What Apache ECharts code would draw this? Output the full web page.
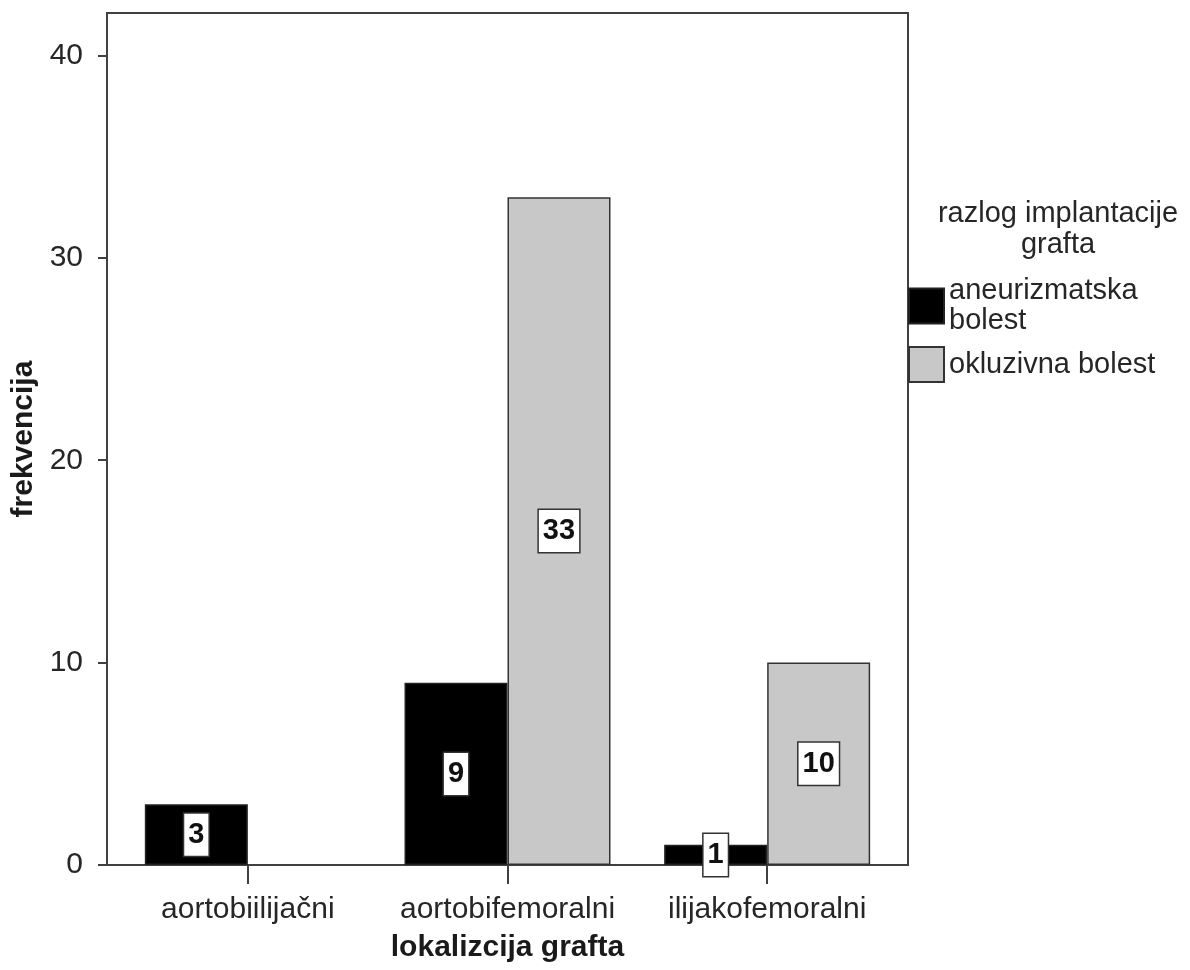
<!DOCTYPE html>
<html>
<head>
<meta charset="utf-8">
<script src="https://cdn.jsdelivr.net/npm/echarts@6/dist/echarts.min.js"></script>
<style>
  html, body { margin: 0; padding: 0; background: #fff; }
  #chart { width: 1190px; height: 970px; }
</style>
</head>
<body>
<div id="chart"></div>
<script>
// Graft location categories and counts per implantation reason
const categories = ['aortobiilijačni', 'aortobifemoralni', 'ilijakofemoralni'];
const aneurizmatska = [3, 9, 1];
const okluzivna = [0, 33, 10];
const seriesNames = ['aneurizmatska\nbolest', 'okluzivna bolest'];
const yTicks = [0, 10, 20, 30, 40];

const FONT = '"Liberation Sans", Arial, sans-serif';
const TEXT = '#262626';
const LINE = '#404040';

const valueLabel = {
  show: true,
  position: 'inside',
  formatter: p => String(p.value),
  color: '#111',
  fontFamily: FONT,
  fontSize: 29,
  fontWeight: 'bold',
  lineHeight: 31,
  backgroundColor: '#fff',
  borderColor: '#333',
  borderWidth: 1.5,
  padding: [6, 4, 5, 4]
};

// zero counts get no drawn bar or label
function toData(arr) {
  return arr.map(v => v === 0
    ? { value: v, label: { show: false }, itemStyle: { borderWidth: 0, opacity: 0 } }
    : v);
}

const chart = echarts.init(document.getElementById('chart'), null, { renderer: 'canvas' });

chart.setOption({
  animation: false,
  backgroundColor: '#fff',
  textStyle: { fontFamily: FONT },
  title: {
    text: 'razlog implantacije\ngrafta',
    left: 1053,
    top: 193,
    textAlign: 'center',
    textStyle: { fontFamily: FONT, fontSize: 29, fontWeight: 'normal', lineHeight: 31, color: TEXT }
  },
  legend: {
    orient: 'vertical',
    left: 908,
    top: 276,
    itemWidth: 35,
    itemHeight: 35,
    itemGap: 10,
    icon: 'rect',
    padding: 0,
    textStyle: { fontFamily: FONT, fontSize: 29, lineHeight: 30, color: TEXT },
    data: seriesNames
  },
  grid: [
    // outer frame of the plot area
    { left: 107, right: 282, top: 13, bottom: 105, show: true, borderColor: LINE, borderWidth: 2,
      backgroundColor: 'transparent', containLabel: false, outerBoundsMode: 'none' },
    // data area
    { left: 118, right: 293, top: 13, bottom: 105, containLabel: false, outerBoundsMode: 'none' }
  ],
  xAxis: [
    { gridIndex: 0, type: 'value', show: false },
    {
      gridIndex: 1,
      type: 'category',
      data: categories,
      axisLine: { show: false },
      axisTick: { show: true, alignWithLabel: true, length: 19, lineStyle: { color: LINE, width: 2 } },
      axisLabel: { interval: 0, fontFamily: FONT, fontSize: 30, color: TEXT, margin: 30, hideOverlap: false },
      name: 'lokalizcija grafta',
      nameLocation: 'middle',
      nameGap: 68,
      nameTextStyle: { fontFamily: FONT, fontSize: 30, fontWeight: 'bold', color: '#1a1a1a' }
    }
  ],
  yAxis: [
    { gridIndex: 0, type: 'value', show: false },
    {
      gridIndex: 1,
      type: 'value',
      min: 0,
      max: 42.1,
      interval: 10,
      offset: 11,
      splitLine: { show: false },
      axisLine: { show: true, lineStyle: { color: LINE, width: 2 } },
      axisTick: { show: true, length: 9, customValues: yTicks, lineStyle: { color: LINE, width: 2 } },
      axisLabel: { fontFamily: FONT, fontSize: 30, color: TEXT, margin: 24, customValues: yTicks },
      name: 'frekvencija',
      nameLocation: 'middle',
      nameGap: 63,
      nameTextStyle: { fontFamily: FONT, fontSize: 30, fontWeight: 'bold', color: '#1a1a1a' }
    }
  ],
  series: [
    {
      name: seriesNames[0],
      type: 'bar',
      xAxisIndex: 1,
      yAxisIndex: 1,
      barWidth: 103,
      barGap: '0%',
      data: toData(aneurizmatska),
      itemStyle: { color: '#000', borderColor: '#222', borderWidth: 1.5 },
      label: valueLabel
    },
    {
      name: seriesNames[1],
      type: 'bar',
      xAxisIndex: 1,
      yAxisIndex: 1,
      barWidth: 103,
      barGap: '0%',
      data: toData(okluzivna),
      itemStyle: { color: '#c8c8c8', borderColor: '#333', borderWidth: 1.5 },
      label: valueLabel
    }
  ]
});
</script>
</body>
</html>
